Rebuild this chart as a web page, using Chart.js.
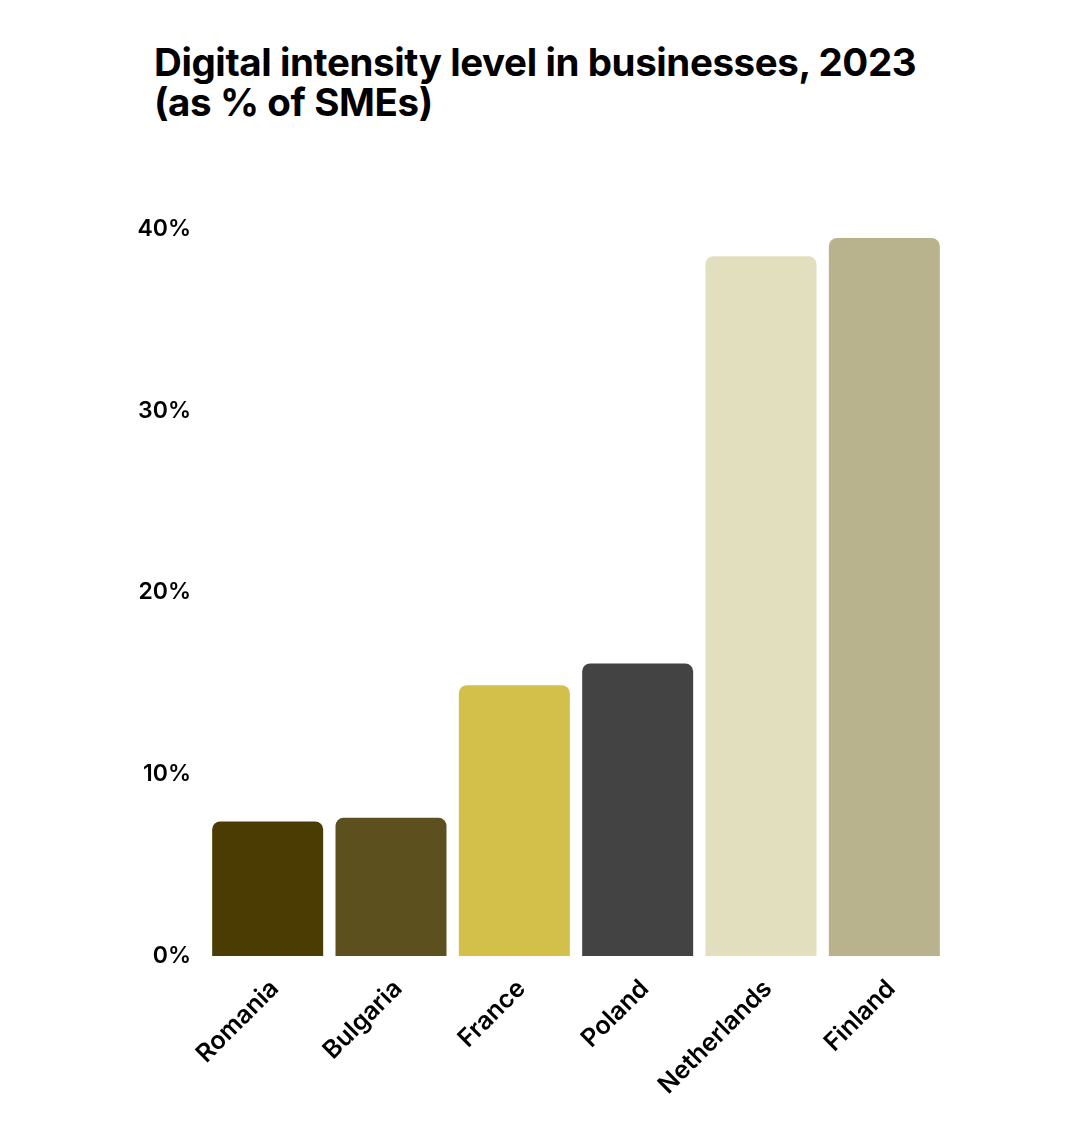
<!doctype html>
<html>
<head>
<meta charset="UTF-8">
<title>Digital intensity level in businesses, 2023</title>
<script src="https://cdn.jsdelivr.net/npm/chart.js"></script>
<style>
  html, body { margin: 0; padding: 0; background: #fff; }
  #wrap { position: relative; width: 1080px; height: 1127px; }
  #title {
    position: absolute; left: 154px; top: 42px; margin: 0;
    font-family: "Inter", sans-serif; font-weight: 700;
    font-size: 38.5px; line-height: 40px; color: #000; letter-spacing: -0.4px;
  }
  #chart { position: absolute; left: 0; top: 0; }
</style>
</head>
<body>
<div id="wrap">
  <h1 id="title">Digital intensity level in businesses, 2023<br>(as % of SMEs)</h1>
  <canvas id="chart" width="1080" height="1127"></canvas>
</div>
<script>
const countries = ["Romania", "Bulgaria", "France", "Poland", "Netherlands", "Finland"];
const shares = [7.4, 7.6, 14.9, 16.1, 38.5, 39.5];
const barColors = ["#4a3c03", "#5c501e", "#d2c04a", "#434343", "#e2dfbe", "#b9b38d"];
const yTicks = [0, 10, 20, 30, 40];

new Chart("chart", {
  type: "bar",
  data: {
    labels: countries,
    datasets: [{
      data: shares,
      backgroundColor: barColors,
      borderRadius: { topLeft: 8, topRight: 8 },
      borderSkipped: "start",
      categoryPercentage: 1,
      barPercentage: 0.9,
    }],
  },
  options: {
    responsive: false,
    animation: false,
    layout: { padding: { top: 229, right: 134, left: 0, bottom: 0 } },
    plugins: { legend: { display: false }, tooltip: { enabled: false } },
    scales: {
      x: {
        grid: { display: false },
        border: { display: false },
        ticks: {
          color: "#000",
          minRotation: 45,
          maxRotation: 45,
          padding: 10,
          labelOffset: 7,
          font: { family: "Inter", size: 25, weight: 600 },
        },
        afterFit: (s) => { s.height = 171; },
      },
      y: {
        min: 0,
        max: 40,
        grid: { display: false },
        border: { display: false },
        afterBuildTicks: (s) => { s.ticks = yTicks.map((v) => ({ value: v })); },
        ticks: {
          color: "#000",
          padding: 7,
          font: { family: "Inter", size: 23, weight: 600 },
          callback: (v) => v + "%",
        },
        afterFit: (s) => { s.width = 206; },
      },
    },
  },
});
</script>
</body>
</html>
